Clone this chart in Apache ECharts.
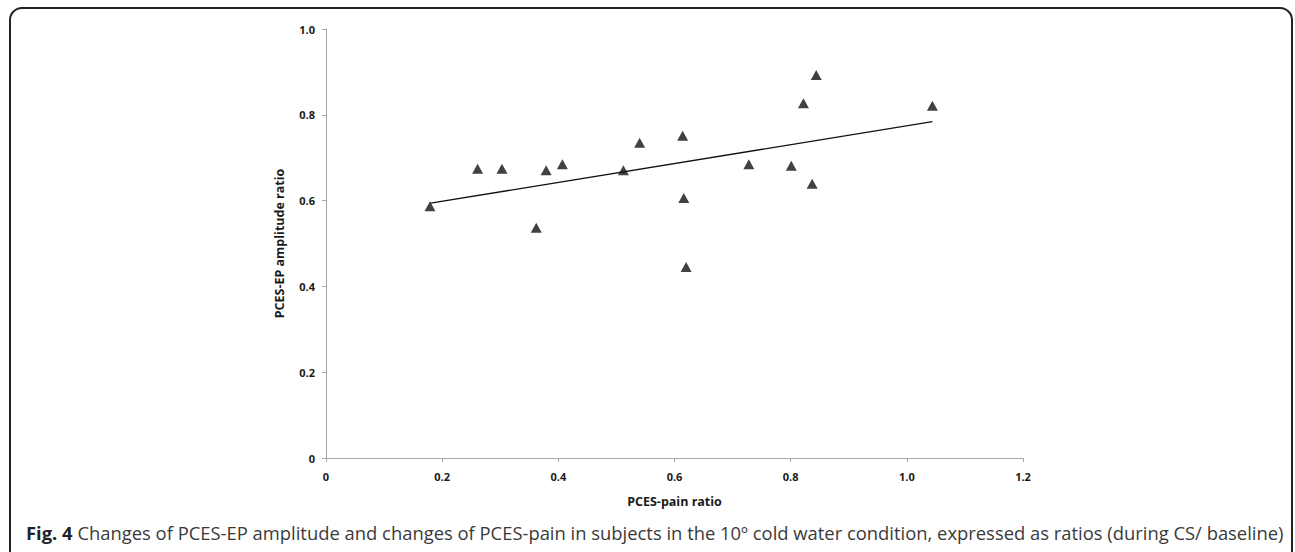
<!DOCTYPE html>
<html>
<head>
<meta charset="utf-8">
<script src="https://cdn.jsdelivr.net/npm/echarts@6/dist/echarts.min.js"></script>
<style>
  html, body { margin: 0; padding: 0; background: #fff; }
  #chart { width: 1295px; height: 552px; }
</style>
</head>
<body>
<div id="chart"></div>
<script>
// PCES-pain ratio (x) vs PCES-EP amplitude ratio (y)
var painRatio = [0.179, 0.261, 0.303, 0.362, 0.379, 0.407, 0.512, 0.540, 0.614, 0.616, 0.620, 0.728, 0.801, 0.822, 0.837, 0.844, 1.044];
var ampRatio  = [0.587, 0.674, 0.674, 0.537, 0.671, 0.685, 0.671, 0.735, 0.751, 0.606, 0.445, 0.685, 0.681, 0.827, 0.639, 0.893, 0.821];
// linear trend line end points
var trendX = [0.18, 1.044];
var trendY = [0.594, 0.784];

var xTicks = ['0', '0.2', '0.4', '0.6', '0.8', '1.0', '1.2'];
var yTicks = ['0', '0.2', '0.4', '0.6', '0.8', '1.0'];

var points = painRatio.map(function (x, i) { return [x, ampRatio[i]]; });
var trend = trendX.map(function (x, i) { return [x, trendY[i]]; });

var chart = echarts.init(document.getElementById('chart'), null, { renderer: 'svg' });

var labelStyle = {
  color: '#1a1a1a',
  fontFamily: 'Open Sans',
  fontWeight: 'bold',
  fontSize: 11
};
var nameStyle = { color: '#1a1a1a', fontFamily: 'Open Sans', fontWeight: 'bold', fontSize: 12.5 };

chart.setOption({
  animation: false,
  grid: { left: 326, right: 272, top: 29, bottom: 94 },
  xAxis: {
    type: 'value',
    min: 0, max: 1.2, interval: 0.2,
    name: 'PCES-pain ratio',
    nameLocation: 'middle',
    nameGap: 37,
    nameTextStyle: nameStyle,
    axisLine: { lineStyle: { color: '#a6a6a6', width: 1 } },
    axisTick: { show: true, length: 4, lineStyle: { color: '#a6a6a6' } },
    axisLabel: Object.assign({ margin: 13, formatter: function (v) { return xTicks[Math.round(v / 0.2)]; } }, labelStyle),
    splitLine: { show: false }
  },
  yAxis: {
    type: 'value',
    min: 0, max: 1.0, interval: 0.2,
    name: 'PCES-EP amplitude ratio',
    nameLocation: 'middle',
    nameGap: 40,
    nameTextStyle: nameStyle,
    axisLine: { show: true, lineStyle: { color: '#a6a6a6', width: 1 } },
    axisTick: { show: true, length: 4, lineStyle: { color: '#a6a6a6' } },
    axisLabel: Object.assign({ margin: 11, formatter: function (v) { return yTicks[Math.round(v / 0.2)]; } }, labelStyle),
    splitLine: { show: false }
  },
  series: [
    {
      type: 'line',
      data: trend,
      showSymbol: false,
      lineStyle: { color: '#111', width: 1.3 },
      z: 2
    },
    {
      type: 'scatter',
      data: points,
      symbol: 'triangle',
      symbolSize: [11, 10],
      itemStyle: { color: '#111' },
      z: 3
    }
  ],
  graphic: [
    {
      type: 'rect',
      shape: { x: 10, y: 8, width: 1282, height: 560, r: 12 },
      style: { fill: 'none', stroke: '#222', lineWidth: 2 },
      silent: true
    },
    {
      type: 'text',
      left: 26,
      top: 523,
      style: {
        text: '{b|Fig. 4} Changes of PCES-EP amplitude and changes of PCES-pain in subjects in the 10º cold water condition, expressed as ratios (during CS/ baseline)',
        fill: '#3a3a3a',
        fontFamily: 'Open Sans',
        fontSize: 18.4,
        rich: {
          b: { fontWeight: 'bold', fontSize: 18.4, fontFamily: 'Open Sans', fill: '#222' }
        }
      }
    }
  ]
});
</script>
</body>
</html>
